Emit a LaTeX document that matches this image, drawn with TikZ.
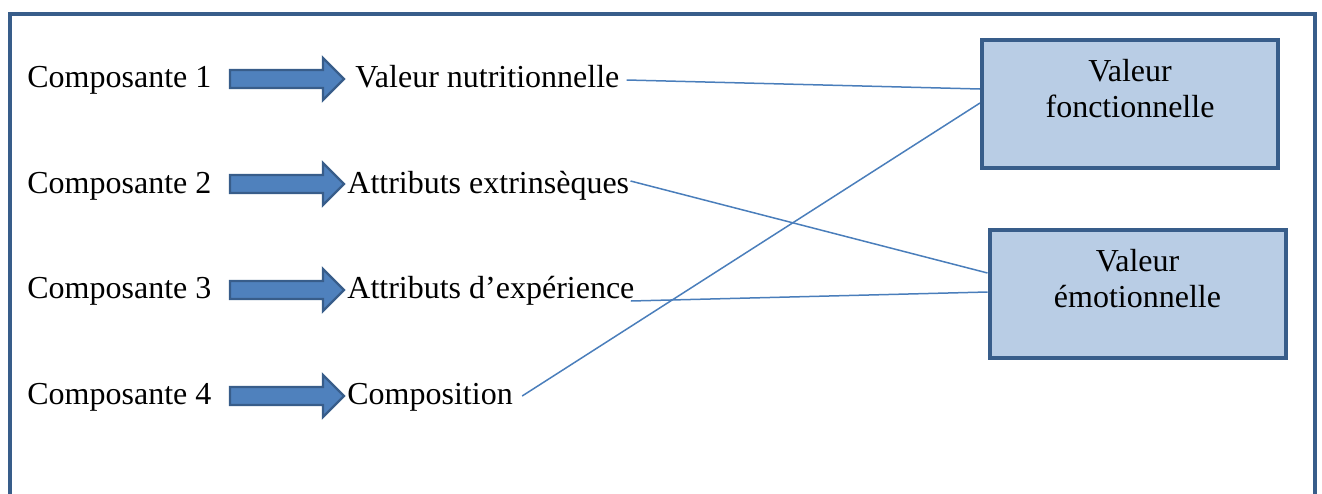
\documentclass[tikz,border=0pt]{standalone}
\usepackage{fontspec}
\setmainfont{Liberation Serif}
\definecolor{frameblue}{HTML}{385D8A}
\definecolor{arrowfill}{HTML}{4F81BD}
\definecolor{boxfill}{HTML}{B9CDE5}
\definecolor{linkblue}{HTML}{4A7EBB}
\pgfdeclarelayer{bg}
\pgfsetlayers{bg,main}

\begin{document}
\begin{tikzpicture}[x=0.5pt,y=-0.5pt,
  lbl/.style={inner sep=0pt, anchor=base west, font=\fontsize{16}{17.6}\selectfont},
  valbox/.style={draw=frameblue, line width=2pt, fill=boxfill,
    minimum width=148pt, minimum height=64pt, inner sep=0pt},
  valtext/.style={inner sep=0pt, anchor=base, align=center,
    font=\fontsize{16}{17.6}\selectfont},
  link/.style={draw=linkblue, line width=0.75pt},
  blockarrow/.pic={
    \filldraw[draw=frameblue, fill=arrowfill, line width=1.2pt, line join=miter]
      (0,-9) -- (93,-9) -- (93,-21) -- (114,0) -- (93,21) -- (93,9) -- (0,9) -- cycle;}
]
\useasboundingbox (0,0) rectangle (1322,493);

% outer frame (open at the bottom edge of the page)
\draw[frameblue, line width=2pt] (10,14) rectangle (1314.5,530);

% left column: components, block arrows, attributes
\node[lbl] (c1) at (27,87)  {Composante 1};
\node[lbl] (c2) at (27,193) {Composante 2};
\node[lbl] (c3) at (27,298) {Composante 3};
\node[lbl] (c4) at (27,404) {Composante 4};

\pic at (230,79)  {blockarrow};
\pic at (230,184) {blockarrow};
\pic at (230,290) {blockarrow};
\pic at (230,396) {blockarrow};

\node[lbl] (vn) at (355,87)  {Valeur nutritionnelle};
\node[lbl] (ae) at (347,193) {Attributs extrinsèques};
\node[lbl] (ax) at (347,298) {Attributs d’expérience};
\node[lbl] (co) at (347,404) {Composition};

% value boxes (text sits in the upper part; base anchor is the last line)
\node[valbox] (vf) at (1130,104) {};
\node[valtext] at (1130,117) {Valeur\\fonctionnelle};
\node[valbox] (ve) at (1137.5,294) {};
\node[valtext] at (1137.5,307) {Valeur\\émotionnelle};

% links between attributes and values
\begin{pgfonlayer}{bg}
\draw[link] ([shift={(7,-7)}]vn.base east) -- ([shift={(0,-15)}]vf.west);
\draw[link] ([shift={(1,-12)}]ae.base east) -- ([shift={(0,-21)}]ve.west);
\draw[link] ([shift={(-4,3)}]ax.base east) -- ([shift={(0,-2)}]ve.west);
\draw[link] ([shift={(9,-8)}]co.base east) -- ([shift={(0,-1)}]vf.west);
\end{pgfonlayer}
\end{tikzpicture}
\end{document}
